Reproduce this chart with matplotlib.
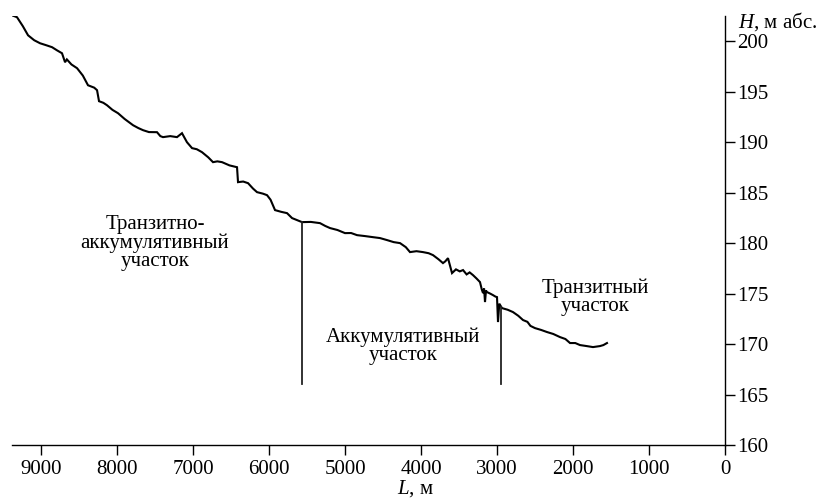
import numpy as np
import matplotlib
matplotlib.use("Agg")
import matplotlib.pyplot as plt

plt.rcParams['font.family'] = ['Liberation Serif', 'DejaVu Serif']
plt.rcParams['mathtext.fontset'] = 'custom'
plt.rcParams['mathtext.it'] = 'Liberation Serif:italic'
plt.rcParams['mathtext.rm'] = 'Liberation Serif'

# Distance along the river (m) and elevation (m abs.)
L = [9382, 9316, 9240, 9171, 9090, 9013, 8930, 8855, 8790, 8724, 8684, 8660,
     8600, 8526, 8450, 8382, 8300, 8263, 8237, 8180, 8132, 8060, 7987, 7900,
     7789, 7720, 7658, 7580, 7474, 7430, 7395, 7300, 7211, 7145, 7080, 7013,
     6950, 6882, 6800, 6737, 6680, 6618, 6520, 6421, 6408, 6340, 6276, 6210,
     6158, 6080, 6026, 5980, 5921, 5840, 5763, 5697, 5566, 5450, 5329, 5260,
     5197, 5100, 5000, 4920, 4842, 4740, 4632, 4540, 4447, 4360, 4276, 4200,
     4145, 4060, 3974, 3900, 3842, 3770, 3711, 3680, 3645, 3592, 3540, 3490,
     3447, 3400, 3360, 3316, 3270, 3224, 3200, 3184, 3170, 3158, 3145, 3132,
     3090, 3053, 3020, 3000, 2987, 2970, 2934, 2860, 2790, 2720, 2658, 2600,
     2560, 2500, 2420, 2342, 2260, 2171, 2100, 2039, 1970, 1908, 1820, 1737,
     1645, 1600, 1553]
H = [202.57, 202.38, 201.5, 200.59, 200.1, 199.80, 199.6, 199.41, 199.1, 198.81, 197.92, 198.2,
     197.7, 197.33, 196.6, 195.64, 195.4, 195.15, 194.06, 193.9, 193.66, 193.2, 192.87, 192.3,
     191.68, 191.4, 191.19, 191.0, 190.99, 190.6, 190.50, 190.6, 190.50, 190.89, 190.0, 189.41,
     189.3, 189.01, 188.5, 188.02, 188.1, 188.02, 187.7, 187.52, 186.04, 186.1, 185.94, 185.4,
     185.05, 184.9, 184.75, 184.3, 183.27, 183.1, 182.97, 182.48, 182.08, 182.1, 181.98, 181.7,
     181.49, 181.3, 180.99, 181.0, 180.79, 180.7, 180.59, 180.5, 180.30, 180.1, 180.00, 179.6,
     179.11, 179.2, 179.11, 179.0, 178.81, 178.4, 178.02, 178.2, 178.51, 177.03, 177.4, 177.2,
     177.33, 176.9, 177.1, 176.83, 176.5, 176.14, 175.4, 175.05, 175.5, 174.16, 175.3, 175.15,
     175.0, 174.85, 174.7, 174.65, 172.18, 174.0, 173.56, 173.4, 173.17, 172.8, 172.38, 172.2,
     171.8, 171.58, 171.4, 171.19, 171.0, 170.69, 170.5, 170.10, 170.1, 169.90, 169.8, 169.70,
     169.80, 169.9, 170.10]

# Section boundaries (m)
boundaries = [5566, 2947]
boundary_bottom = 166.0

section_labels = ["Транзитно-\nаккумулятивный\nучасток",
                  "Аккумулятивный\nучасток",
                  "Транзитный\nучасток"]
label_L = [7500, 4237, 1711]
label_H = [180.0, 169.8, 174.65]

x_ticks = list(range(0, 10000, 1000))
y_ticks = list(range(160, 201, 5))

fig = plt.figure(figsize=(8.18, 5.0), dpi=100)
ax = fig.add_axes([12/818, 1-445/500, (725-12)/818, (445-16)/500])

ax.plot(L, H, color='black', lw=1.5, solid_joinstyle='miter')

Ls = np.array(L[::-1], dtype=float)
Hs = np.array(H[::-1], dtype=float)
for b in boundaries:
    top = np.interp(b, Ls, Hs)
    ax.plot([b, b], [boundary_bottom, top], color='#222222', lw=1.3)

for t, x, y in zip(section_labels, label_L, label_H):
    ax.text(x, y, t, ha='center', va='center', fontsize=15, linespacing=0.95)

ax.set_xlim(9382, 0)
ax.set_ylim(160, 202.5)

for s in ['top', 'left']:
    ax.spines[s].set_visible(False)
for s in ['bottom', 'right']:
    ax.spines[s].set_linewidth(1.0)

ax.yaxis.tick_right()
ax.set_xticks(x_ticks)
ax.set_yticks(y_ticks)
ax.tick_params(axis='x', direction='out', length=7, width=1, labelsize=15, pad=4)
ax.tick_params(axis='y', direction='out', length=7, width=1, labelsize=15, pad=2)

fig.text(738/818, 1-22/500, '$H$, м абс.', ha='left', va='center', fontsize=15)
fig.text(415/818, 1-478/500, '$L$, м', ha='center', va='top', fontsize=15)

fig.savefig('out.png', dpi=100)
